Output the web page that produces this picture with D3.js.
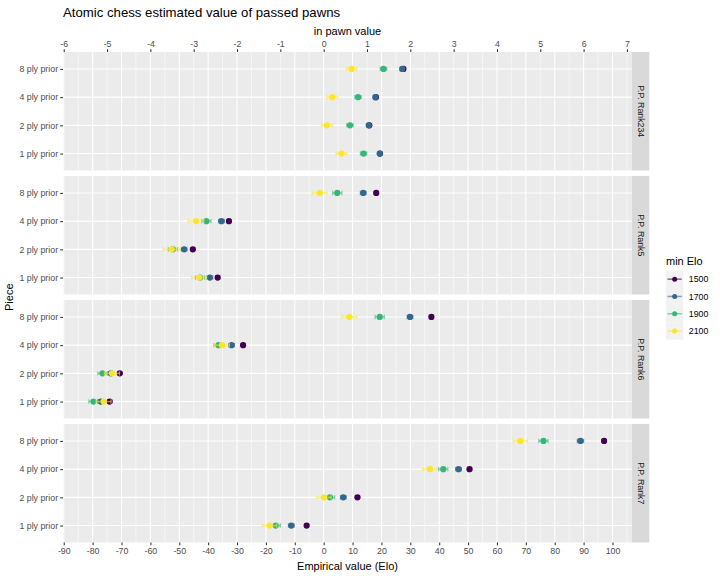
<!DOCTYPE html>
<html><head><meta charset="utf-8">
<script src="https://cdn.jsdelivr.net/npm/d3@7"></script>
<style>body{margin:0;background:#fff;} text{font-family:"Liberation Sans",Arial,Helvetica,sans-serif;}</style>
</head><body><svg id="c" width="720" height="576"></svg>
<script>
const panels = ["P.P. Rank234","P.P. Rank5","P.P. Rank6","P.P. Rank7"];
const plies = ["1 ply prior","2 ply prior","4 ply prior","8 ply prior"];
const eloLevels = ["1500","1700","1900","2100"];
const colors = ["#440154","#31688E","#35B779","#FDE725"];
// values per elo level: panel by panel, plies 1,2,4,8
const elo1500 = [19.5,15.8,18.1,27.6, -36.7,-45.3,-32.8,18.2, -74.1,-70.6,-27.9,37.3, -5.9,11.7,50.5,97.1];
const elo1700 = [19.4,15.6,17.9,27.2, -39.4,-48.3,-35.4,13.7, -77.2,-73.7,-31.9,29.9, -11.2,6.8,46.7,88.9];
const elo1900 = [13.8,9.1,11.9,20.7, -42.8,-52.2,-40.6,4.7, -79.7,-76.6,-36.4,19.4, -16.6,2.2,41.4,76.1];
const elo2100 = [6.2,1.1,3.0,9.7, -43.1,-52.6,-44.2,-1.4, -76.2,-73.3,-35.2,8.9, -18.7,0.1,36.8,68.1];
// half-width of error bars (Elo)
const err1500 = [0.5,0.5,0.5,0.5, 0.7,0.7,0.7,0.7, 0.7,0.7,0.7,0.7, 0.7,0.7,0.7,0.7];
const err1700 = [0.7,0.7,0.7,0.7, 1.0,1.0,1.0,1.0, 1.0,1.0,1.0,1.0, 1.0,1.0,1.0,1.1];
const err1900 = [1.1,1.1,1.1,1.1, 1.6,1.6,1.6,1.6, 1.6,1.6,1.6,1.6, 1.6,1.6,1.6,1.6];
const err2100 = [1.9,1.9,1.9,1.8, 2.6,2.9,2.7,2.6, 2.6,2.6,2.6,2.6, 2.5,2.5,2.5,2.5];
const eloTicks = d3.range(-90,101,10);
const pawnTicks = d3.range(-6,8,1);
const eloPerPawn = 15;

const values = [elo1500,elo1700,elo1900,elo2100];
const errs = [err1500,err1700,err1900,err2100];
const rows = [];
eloLevels.forEach((lv,si)=>{
  values[si].forEach((v,i)=>{
    rows.push({elo:lv, si, panel:panels[Math.floor(i/4)], ply:plies[i%4], v, e:errs[si][i]});
  });
});

const svg = d3.select("#c");
const L=63, R=632, top0=52, pH=118.5, gap=5.5, stripW=17.3;
const lo = d3.min(rows,d=>d.v-d.e), hi = d3.max(rows,d=>d.v+d.e), ex=(hi-lo)*0.05;
const x = d3.scaleLinear().domain([lo-ex, hi+ex]).range([L,R]);
const y = d3.scalePoint().domain(plies.slice().reverse()).range([0,pH]).padding(0.6);
const axCol="#4D4D4D", fs=8.8;
const fmt = d=>String(d);

// title
svg.append("text").attr("x",L).attr("y",17).attr("font-size",13.2).attr("fill","#000").text("Atomic chess estimated value of passed pawns");

const minor = [];
eloTicks.forEach(t=>{ [t-5,t+5].forEach(m=>{ if(m>x.domain()[0]&&m<x.domain()[1]&&!minor.includes(m)&&!eloTicks.includes(m)) minor.push(m); }); });

panels.forEach((p,pi)=>{
  const ty = top0 + pi*(pH+gap);
  const g = svg.append("g").attr("transform",`translate(0,${ty})`);
  g.append("rect").attr("x",L).attr("y",0).attr("width",R-L).attr("height",pH).attr("fill","#EBEBEB");
  g.selectAll(".mn").data(minor).enter().append("line").attr("x1",d=>x(d)).attr("x2",d=>x(d)).attr("y1",0).attr("y2",pH).attr("stroke","#fff").attr("stroke-width",0.53);
  g.selectAll(".mj").data(eloTicks).enter().append("line").attr("x1",d=>x(d)).attr("x2",d=>x(d)).attr("y1",0).attr("y2",pH).attr("stroke","#fff").attr("stroke-width",1.07);
  g.selectAll(".hy").data(plies).enter().append("line").attr("x1",L).attr("x2",R).attr("y1",d=>y(d)).attr("y2",d=>y(d)).attr("stroke","#fff").attr("stroke-width",1.07);
  // strip
  g.append("rect").attr("x",R).attr("y",0).attr("width",stripW).attr("height",pH).attr("fill","#D9D9D9");
  g.append("text").attr("transform",`translate(${R+stripW/2},${pH/2}) rotate(90)`).attr("text-anchor","middle").attr("dy","0.35em").attr("font-size",fs).attr("fill","#1A1A1A").text(p);
  // y axis
  const ya = d3.axisLeft(y).tickSize(2.75).tickPadding(2.2);
  const yg = g.append("g").attr("transform",`translate(${L},0)`).call(ya);
  yg.select(".domain").remove();
  yg.selectAll("line").attr("stroke","#333333").attr("stroke-width",1.07);
  yg.selectAll("text").attr("font-size",fs).attr("fill",axCol).attr("font-family","Liberation Sans, Arial, sans-serif");
  // data
  const pd = rows.filter(d=>d.panel===p);
  eloLevels.forEach((lv,si)=>{
    const sd = pd.filter(d=>d.si===si);
    const gg = g.append("g");
    sd.forEach(d=>{
      const yy=y(d.ply), x1=x(d.v-d.e), x2=x(d.v+d.e);
      gg.append("line").attr("x1",x1).attr("x2",x2).attr("y1",yy).attr("y2",yy).attr("stroke",colors[si]).attr("stroke-opacity",0.6).attr("stroke-width",1.5);
      [x1,x2].forEach(xx=>gg.append("line").attr("x1",xx).attr("x2",xx).attr("y1",yy-2.2).attr("y2",yy+2.2).attr("stroke",colors[si]).attr("stroke-opacity",0.6).attr("stroke-width",1.2));
      gg.append("circle").attr("cx",x(d.v)).attr("cy",yy).attr("r",3.1).attr("fill",colors[si]);
    });
  });
});

const bottomY = top0 + 4*pH + 3*gap;
// bottom axis
const xb = svg.append("g").attr("transform",`translate(0,${bottomY})`).call(d3.axisBottom(x).tickValues(eloTicks).tickFormat(fmt).tickSize(2.75).tickPadding(2.2));
xb.select(".domain").remove();
xb.selectAll("line").attr("stroke","#333333").attr("stroke-width",1.07);
xb.selectAll("text").attr("font-size",fs).attr("fill",axCol).attr("font-family","Liberation Sans, Arial, sans-serif");
// top axis (pawn)
const xp = d3.scaleLinear().domain(x.domain().map(d=>d/eloPerPawn)).range(x.range());
const xt = svg.append("g").attr("transform",`translate(0,${top0})`).call(d3.axisTop(xp).tickValues(pawnTicks).tickFormat(fmt).tickSize(2.75).tickPadding(2.2));
xt.select(".domain").remove();
xt.selectAll("line").attr("stroke","#333333").attr("stroke-width",1.07);
xt.selectAll("text").attr("font-size",fs).attr("fill",axCol).attr("font-family","Liberation Sans, Arial, sans-serif");

const cx=(L+R)/2;
svg.append("text").attr("x",cx).attr("y",570).attr("text-anchor","middle").attr("font-size",11).text("Empirical value (Elo)");
svg.append("text").attr("x",cx).attr("y",35).attr("text-anchor","middle").attr("font-size",11).text("in pawn value");
svg.append("text").attr("transform",`translate(13,${(top0+bottomY)/2}) rotate(-90)`).attr("text-anchor","middle").attr("font-size",11).text("Piece");

// legend
const lg = svg.append("g").attr("transform","translate(666,0)");
lg.append("text").attr("x",0).attr("y",265).attr("font-size",11).text("min Elo");
const ks=17.3, k0=270.5;
eloLevels.forEach((lv,si)=>{
  const ky=k0+si*ks;
  lg.append("rect").attr("x",0).attr("y",ky).attr("width",ks).attr("height",ks).attr("fill","#F2F2F2");
  lg.append("line").attr("x1",1.5).attr("x2",ks-1.5).attr("y1",ky+ks/2).attr("y2",ky+ks/2).attr("stroke",colors[si]).attr("stroke-opacity",0.6).attr("stroke-width",1.5);
  lg.append("circle").attr("cx",ks/2).attr("cy",ky+ks/2).attr("r",2.5).attr("fill",colors[si]);
  lg.append("text").attr("x",ks+5.5).attr("y",ky+ks/2).attr("dy","0.35em").attr("font-size",fs).attr("fill","#000").text(lv);
});
</script></body></html>
